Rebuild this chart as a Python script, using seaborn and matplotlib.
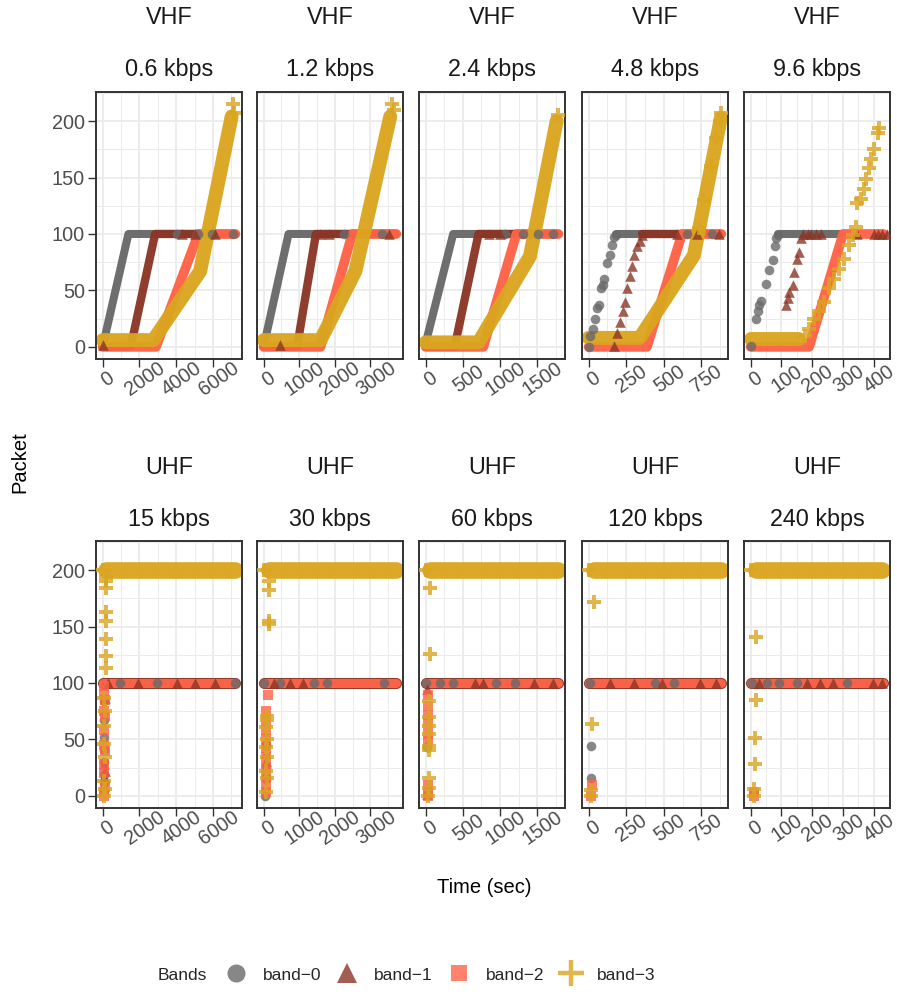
import numpy as np
import pandas as pd
import matplotlib
matplotlib.use("Agg")
import matplotlib.pyplot as plt
import seaborn as sns
from matplotlib.lines import Line2D
from matplotlib.ticker import MultipleLocator

sns.set_theme(style="white")
plt.rcParams["font.family"] = ["Liberation Sans", "DejaVu Sans"]

# ---- labels / scales -------------------------------------------------------
bands = ["band-0", "band-1", "band-2", "band-3"]
band_labels = ["band\u22120", "band\u22121", "band\u22122", "band\u22123"]
band_colors = ["#696969", "#8B3626", "#FF6347", "#DAA520"]
band_markers = ["o", "^", "s", "P"]

radios = ["VHF"] * 5 + ["UHF"] * 5
rates = ["0.6 kbps", "1.2 kbps", "2.4 kbps", "4.8 kbps", "9.6 kbps",
         "15 kbps", "30 kbps", "60 kbps", "120 kbps", "240 kbps"]
x_ticks = [[0, 2000, 4000, 6000], [0, 1000, 2000, 3000], [0, 500, 1000, 1500],
           [0, 250, 500, 750], [0, 100, 200, 300, 400]]
x_span = [7213, 3732, 1783, 883, 431]   # data range of time per column
y_ticks = [0, 50, 100, 150, 200]
y_span = 215

# ---- VHF panels (dense runs of packets are kept as the run's corner points) --
vhf06_paths = {
    "band-0": [[(0, 0), (1400, 100), (7200, 100)]],
    "band-1": [[(0, 0), (1525, 0), (2850, 100), (7200, 100)]],
    "band-2": [[(0, 0), (2900, 0), (5200, 100), (7213, 100)]],
    "band-3": [[(0, 6), (2750, 6), (5300, 67), (7010, 204)]],
}
vhf06_points = {
    "band-0": [(4025, 100), (5200, 100), (5925, 100), (7100, 100)],
    "band-1": [(30, 2), (4295, 100), (5020, 100), (6105, 100)],
    "band-3": [(7066, 215), (7150, 207)],
}

vhf12_paths = {
    "band-0": [[(0, 0), (700, 100), (3700, 100)]],
    "band-1": [[(0, 0), (940, 0), (1470, 100), (3700, 100)]],
    "band-2": [[(0, 0), (1600, 0), (2490, 100), (3732, 100)]],
    "band-3": [[(0, 6), (1600, 6), (2580, 67), (3560, 204)]],
}
vhf12_points = {
    "band-0": [(2252, 100), (3330, 100)],
    "band-1": [(450, 2), (1594, 100), (1828, 100), (3515, 100)],
    "band-3": [(3610, 215), (3660, 210)],
}

vhf24_paths = {
    "band-0": [[(0, 3), (370, 100), (1780, 100)]],
    "band-1": [[(0, 0), (390, 0), (710, 100), (1780, 100)]],
    "band-2": [[(0, 0), (775, 0), (1220, 100), (1783, 100)]],
    "band-3": [[(0, 4), (710, 4), (1400, 80), (1760, 200)]],
}
vhf24_points = {
    "band-0": [(1065, 100), (1312, 100), (1514, 100), (1715, 100)],
    "band-1": [(845, 100), (1000, 100)],
    "band-3": [(1782, 205)],
}

vhf48_paths = {
    "band-0": [[(184, 100), (880, 100)]],
    "band-1": [[(355, 100), (880, 100)]],
    "band-2": [[(0, 0), (388, 0), (621, 100), (883, 100)]],
    "band-3": [[(0, 8), (340, 8), (700, 81), (880, 203)]],
}
vhf48_points = {
    "band-0": [(0, 0), (11, 10), (29, 16), (45, 25), (56, 34), (67, 37), (82, 52),
               (96, 55), (104, 60), (122, 74), (140, 81), (155, 90), (167, 97),
               (184, 99), (655, 100), (821, 100)],
    "band-1": [(166, 1), (189, 12), (211, 22), (229, 32), (244, 40), (255, 52),
               (273, 63), (289, 72), (304, 81), (322, 89), (344, 94), (355, 99),
               (588, 100), (721, 100), (870, 100)],
    "band-3": [(735, 105), (770, 130), (815, 160), (850, 185), (875, 200), (883, 207)],
}

vhf96_paths = {
    "band-0": [[(88, 100), (298, 100)]],
    "band-2": [[(0, 0), (190, 0), (300, 100), (431, 100)]],
    "band-3": [[(0, 7), (158, 7)]],
}
vhf96_points = {
    "band-0": [(0, 1), (17, 25), (23, 32), (28, 37), (34, 41), (50, 56), (61, 68),
               (71, 77), (79, 89), (82, 96), (88, 99)],
    "band-1": [(115, 37), (120, 43), (125, 49), (136, 55), (142, 66), (152, 78),
               (156, 84), (163, 96), (169, 100), (185, 100), (196, 100), (212, 100),
               (228, 100), (347, 100), (401, 100), (415, 100), (428, 100), (444, 100)],
    "band-3": [(175, 10), (190, 16), (206, 25), (223, 32), (239, 40), (255, 52),
               (271, 60), (288, 69), (304, 78), (320, 90), (331, 99), (342, 106),
               (347, 127), (358, 131), (369, 140), (376, 149), (383, 158), (390, 166),
               (401, 175), (412, 189), (417, 194)],
}

# ---- UHF panels --------------------------------------------------------------
uhf15_paths = {
    "band-1": [[(0, 100), (7213, 100)]],
    "band-2": [[(0, 100), (7213, 100)]],
    "band-3": [[(170, 200), (7200, 200)]],
}
uhf15_points = {
    "band-0": [(945, 100), (2938, 100), (7190, 100), (60, 84), (100, 67), (60, 52),
               (100, 41), (60, 30), (100, 19), (60, 12)],
    "band-1": [(311, 100), (1940, 100), (4025, 100), (5020, 100), (6105, 100),
               (150, 87), (100, 28), (150, 22), (100, 18), (60, 10)],
    "band-2": [(100, 97), (100, 90), (150, 85), (100, 75), (150, 71), (100, 58),
               (100, 45), (150, 40), (100, 28), (100, 20), (150, 8), (100, 3), (50, 0)],
    "band-3": [(0, 200), (200, 194), (200, 190), (200, 184), (200, 163), (200, 155),
               (200, 139), (200, 124), (200, 113), (100, 87), (150, 75), (100, 62),
               (100, 46), (150, 34), (100, 13), (150, 6), (50, 0)],
}

uhf30_paths = {
    "band-1": [[(0, 100), (3732, 100)]],
    "band-2": [[(0, 100), (3732, 100)]],
    "band-3": [[(141, 200), (3730, 200)]],
}
uhf30_points = {
    "band-0": [(0, 100), (469, 100), (1406, 100), (1780, 100), (3373, 100),
               (40, 0), (60, 15), (60, 25), (60, 45)],
    "band-1": [(282, 100), (751, 100), (1100, 100), (60, 49), (60, 38), (60, 31),
               (60, 20)],
    "band-2": [(123, 89), (60, 75), (60, 66), (60, 58), (60, 50), (60, 42), (60, 34),
               (60, 26), (60, 18), (60, 10), (60, 3)],
    "band-3": [(0, 200), (141, 190), (141, 182), (141, 155), (141, 152), (100, 71),
               (100, 67), (60, 61), (100, 50), (60, 43), (100, 34), (60, 22),
               (100, 16), (60, 3)],
}

uhf60_paths = {
    "band-1": [[(0, 100), (1783, 100)]],
    "band-2": [[(0, 100), (1783, 100)]],
    "band-3": [[(58, 200), (1783, 200)]],
}
uhf60_points = {
    "band-0": [(0, 100), (188, 100), (367, 100), (950, 100), (1200, 100), (14, 43)],
    "band-1": [(658, 100), (770, 100), (1450, 100), (1710, 100), (25, 95), (20, 2)],
    "band-2": [(30, 89), (30, 80), (30, 72), (30, 64), (30, 55), (30, 49), (30, 10),
               (30, 3), (30, 0)],
    "band-3": [(0, 200), (58, 184), (58, 126), (40, 84), (40, 70), (40, 62), (40, 55),
               (40, 44), (40, 41), (40, 16), (40, 7), (30, 0)],
}

uhf120_paths = {
    "band-1": [[(0, 100), (883, 100)]],
    "band-2": [[(0, 100), (883, 100)]],
    "band-3": [[(33, 200), (880, 200)]],
}
uhf120_points = {
    "band-0": [(10, 100), (444, 100), (566, 100), (15, 44), (15, 16)],
    "band-1": [(144, 100), (300, 100), (488, 100), (743, 100), (850, 100)],
    "band-2": [(20, 10), (15, 0)],
    "band-3": [(0, 200), (33, 172), (22, 64), (15, 5), (15, 0)],
}

uhf240_paths = {
    "band-1": [[(0, 100), (431, 100)]],
    "band-2": [[(0, 100), (431, 100)]],
    "band-3": [[(16, 200), (427, 200)]],
}
uhf240_points = {
    "band-0": [(5, 100), (54, 100), (92, 100), (152, 100), (314, 100)],
    "band-1": [(27, 100), (182, 100), (225, 100), (268, 100), (398, 100), (425, 100)],
    "band-2": [(10, 0), (12, 3)],
    "band-3": [(0, 200), (16, 141), (16, 85), (14, 51), (14, 28), (12, 6), (10, 0)],
}

panel_paths = [vhf06_paths, vhf12_paths, vhf24_paths, vhf48_paths, vhf96_paths,
               uhf15_paths, uhf30_paths, uhf60_paths, uhf120_paths, uhf240_paths]
panel_points = [vhf06_points, vhf12_points, vhf24_points, vhf48_points, vhf96_points,
                uhf15_points, uhf30_points, uhf60_points, uhf120_points, uhf240_points]

# ---- drawing ---------------------------------------------------------------
W, H = 897, 997
fig = plt.figure(figsize=(W / 100, H / 100), dpi=100)

col_left = [96, 257, 419, 582, 744]
panel_w = 146
row_top = [92, 541]
panel_h = 267

vhf_widths = {"band-0": 5.8, "band-1": 6.0, "band-2": 7.0, "band-3": 10.0}
uhf_widths = {"band-0": 5.8, "band-1": 8.0, "band-2": 6.5, "band-3": 12.0}
point_sizes = {"band-0": 48, "band-1": 58, "band-2": 46, "band-3": 100}

for i in range(10):
    row, col = divmod(i, 5)
    ax = fig.add_axes([col_left[col] / W, 1 - (row_top[row] + panel_h) / H,
                       panel_w / W, panel_h / H])
    widths = vhf_widths if row == 0 else uhf_widths

    # dense runs
    for band, color in zip(bands, band_colors):
        for seg in panel_paths[i].get(band, []):
            seg_df = pd.DataFrame(seg, columns=["time", "packet"])
            sns.lineplot(data=seg_df, x="time", y="packet", ax=ax, color=color,
                         linewidth=widths[band], sort=False, estimator=None,
                         solid_capstyle="round", solid_joinstyle="round",
                         alpha=0.97, legend=False, zorder=2)
    # individual packets
    for band, color, marker in zip(bands, band_colors, band_markers):
        pts = panel_points[i].get(band, [])
        if pts:
            pts_df = pd.DataFrame(pts, columns=["time", "packet"])
            sns.scatterplot(data=pts_df, x="time", y="packet", ax=ax, color=color,
                            marker=marker, s=point_sizes[band], alpha=0.8,
                            linewidth=0, legend=False, zorder=3)

    span = x_span[col]
    ax.set_xlim(-0.05 * span, 1.05 * span)
    ax.set_ylim(-0.05 * y_span, 1.05 * y_span)
    ax.set_xticks(x_ticks[col])
    ax.set_xticklabels([str(t) for t in x_ticks[col]], rotation=35, ha="center",
                       va="top", rotation_mode="anchor")
    ax.xaxis.set_minor_locator(MultipleLocator((x_ticks[col][1] - x_ticks[col][0]) / 2))
    ax.set_yticks(y_ticks)
    ax.yaxis.set_minor_locator(MultipleLocator(25))
    ax.grid(which="major", color="#EBEBEB", linewidth=1.3)
    ax.grid(which="minor", color="#EBEBEB", linewidth=0.7)
    ax.set_axisbelow(True)
    for s in ax.spines.values():
        s.set_color("#333333")
        s.set_linewidth(1.4)
    ax.tick_params(which="major", length=6, width=1.0, color="#333333",
                   labelsize=14.3, labelcolor="#4D4D4D", pad=2, bottom=True, left=True)
    ax.tick_params(axis="x", pad=3)
    ax.tick_params(which="minor", length=0)
    if col > 0:
        ax.tick_params(axis="y", left=False, labelleft=False)
    ax.set_xlabel("")
    ax.set_ylabel("")

    cx = (col_left[col] + panel_w / 2) / W
    base = 24 if row == 0 else 474
    fig.text(cx, 1 - base / H, radios[i], ha="center", va="baseline",
             fontsize=16.8, color="#1A1A1A")
    fig.text(cx, 1 - (base + 52) / H, rates[i], ha="center", va="baseline",
             fontsize=16.8, color="#1A1A1A")

fig.text(20 / W, 1 - 462 / H, "Packet", rotation=90, ha="center", va="center",
         fontsize=14.5, color="black")
fig.text(484 / W, 1 - 887 / H, "Time (sec)", ha="center", va="center",
         fontsize=14.5, color="black")

# legend
fig.text(158 / W, 1 - 975 / H, "Bands", ha="left", va="center", fontsize=12.5)
legend_sizes = [13, 15, 12, 19]
handles = []
for color, marker, ms in zip(band_colors, ["o", "^", "s", "+"], legend_sizes):
    if marker == "+":
        h = Line2D([], [], linestyle="", marker=marker, markersize=ms, color=color,
                   alpha=0.8, markeredgewidth=3.2)
    else:
        h = Line2D([], [], linestyle="", marker=marker, markersize=ms, color=color,
                   alpha=0.8, markeredgewidth=0)
    handles.append(h)
fig.legend(handles, band_labels, loc="center left", bbox_to_anchor=(223 / W, 1 - 975 / H),
           ncol=4, frameon=False, fontsize=12.5, handlelength=1.5, handletextpad=0.8,
           columnspacing=0.75, borderpad=0, borderaxespad=0)

fig.savefig("out.png", dpi=100)
